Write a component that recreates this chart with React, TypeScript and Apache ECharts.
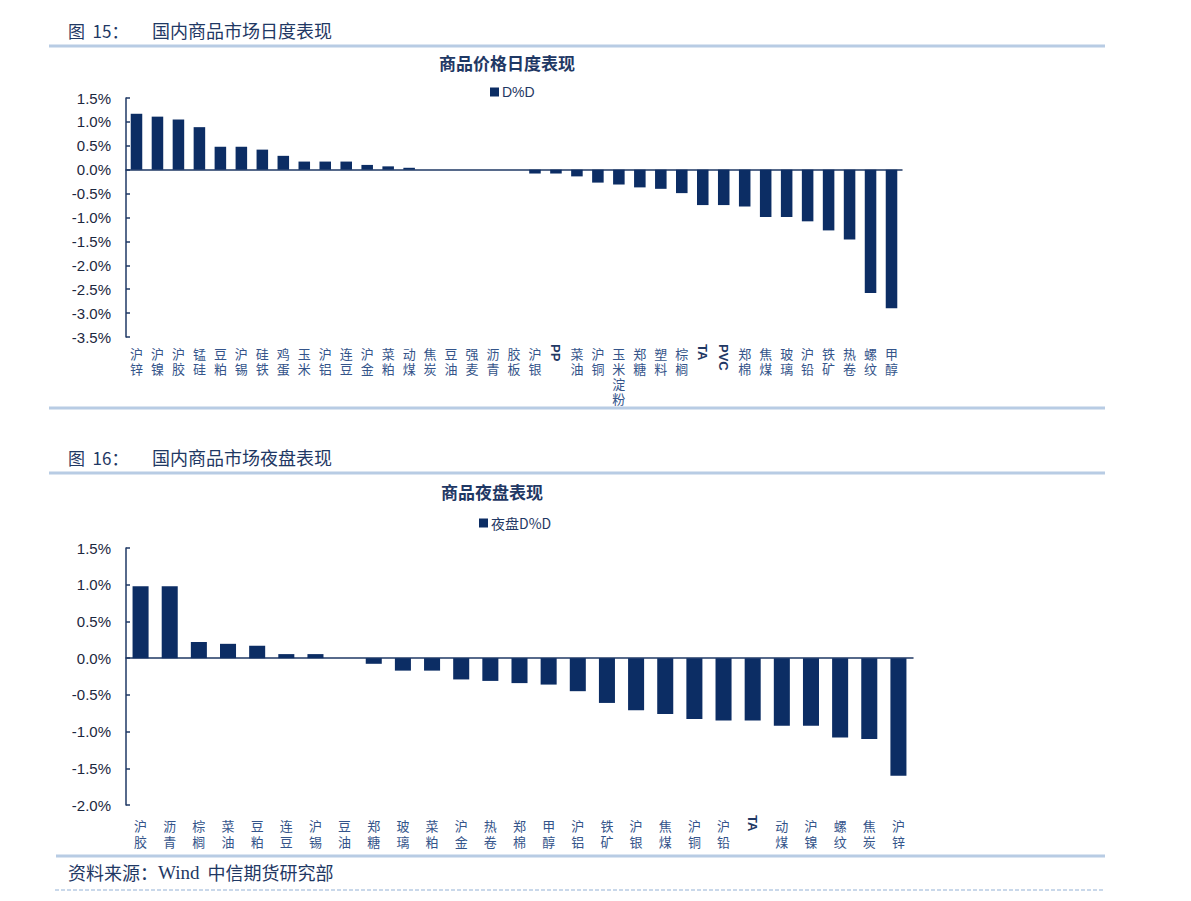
import React, { useEffect, useRef } from "react";
import * as echarts from "echarts";

const topCategories = ["沪锌","沪镍","沪胶","锰硅","豆粕","沪锡","硅铁","鸡蛋","玉米","沪铝","连豆","沪金","菜粕","动煤","焦炭","豆油","强麦","沥青","胶板","沪银","PP","菜油","沪铜","玉米淀粉","郑糖","塑料","棕榈","TA","PVC","郑棉","焦煤","玻璃","沪铅","铁矿","热卷","螺纹","甲醇"];
const topValues = [1.17,1.11,1.05,0.89,0.48,0.48,0.42,0.29,0.17,0.17,0.17,0.10,0.07,0.04,0,0,0,0,0,-0.08,-0.08,-0.14,-0.27,-0.31,-0.37,-0.40,-0.49,-0.74,-0.74,-0.77,-0.99,-0.99,-1.08,-1.27,-1.46,-2.58,-2.90];

const nightCategories = ["沪胶","沥青","棕榈","菜油","豆粕","连豆","沪锡","豆油","郑糖","玻璃","菜粕","沪金","热卷","郑棉","甲醇","沪铝","铁矿","沪银","焦煤","沪铜","沪铅","TA","动煤","沪镍","螺纹","焦炭","沪锌"];
const nightValues = [0.98,0.98,0.22,0.195,0.17,0.055,0.055,0,-0.077,-0.17,-0.17,-0.29,-0.31,-0.34,-0.36,-0.45,-0.61,-0.71,-0.76,-0.83,-0.85,-0.85,-0.92,-0.92,-1.08,-1.10,-1.60];

const topYRange = [-3.5, 1.5];
const nightYRange = [-2, 1.5];

const BAR = "#0c2d64";
const NAVY = "#1f3864";
const LINE = "#b8cce4";
const CJK = "'Noto Sans CJK SC', sans-serif";
const ARIAL = "Arial, 'Liberation Sans', sans-serif";
const isLatin = (v: string) => /[A-Za-z]/.test(v);

function xAxes(grid: number, cats: string[], cjkMargin: number, lineH: number) {
  return [
    {
      type: "category", gridIndex: grid, data: cats,
      axisLine: { onZero: true, lineStyle: { color: NAVY, width: 1.5 } },
      axisTick: { inside: true, length: 5, lineStyle: { color: NAVY, width: 1.5 } },
      axisLabel: { show: false },
    },
    {
      type: "category", gridIndex: grid, data: cats, position: "bottom",
      axisLine: { show: false, onZero: false }, axisTick: { show: false },
      axisLabel: {
        interval: 0, margin: cjkMargin, color: "#34548a", fontFamily: CJK, fontSize: 13,
        lineHeight: lineH,
        formatter: (v: string) => (isLatin(v) ? "" : v.split("").join("\n")),
      },
    },
  ];
}

function yAxis(grid: number, range: number[]) {
  return {
    type: "value", gridIndex: grid, min: range[0], max: range[1], interval: 0.5,
    axisLine: { show: true, lineStyle: { color: NAVY, width: 1.5 } },
    axisTick: { show: true, inside: true, length: 4, lineStyle: { color: NAVY, width: 1.5 } },
    splitLine: { show: false },
    axisLabel: {
      margin: 15, color: "#1c2740", fontSize: 15, fontFamily: ARIAL,
      formatter: (v: number) => v.toFixed(1) + "%",
    },
  };
}

function hline(y: number, x1: number, x2: number, dashed = false, w = 3) {
  return {
    type: "line", shape: { x1, y1: y, x2, y2: y },
    style: { stroke: LINE, lineWidth: w, lineDash: dashed ? [4, 2] : undefined },
  };
}

function text(x: number, y: number, t: string, size: number, bold = false, align = "left") {
  return {
    type: "text", x, y,
    style: {
      text: t, fill: NAVY, font: `${bold ? "bold " : ""}${size}px ${CJK}`,
      textAlign: align, textVerticalAlign: "middle",
    },
  };
}

export default function App() {
  const ref = useRef<HTMLDivElement>(null);
  useEffect(() => {
    if (!ref.current) return;
    const chart = echarts.init(ref.current, undefined, { renderer: "svg" });
    chart.setOption({
      animation: false,
      backgroundColor: "#ffffff",
      grid: [
        { left: 126, top: 98, width: 776, height: 239 },
        { left: 126, top: 548, width: 787, height: 257 },
      ],
      legend: [
        {
          data: ["D%D"], left: 485, top: 80, itemWidth: 9, itemHeight: 9, itemGap: 4,
          icon: "rect", textStyle: { color: NAVY, fontSize: 14, fontFamily: ARIAL, padding: [0, 0, 0, -2] },
        },
        {
          data: ["夜盘D%D"], left: 474, top: 511, itemWidth: 9, itemHeight: 9, itemGap: 4,
          icon: "rect", textStyle: { color: NAVY, fontSize: 14, fontFamily: CJK, padding: [0, 0, 0, -2] },
        },
      ],
      xAxis: [...xAxes(0, topCategories, 9, 15), ...xAxes(1, nightCategories, 12, 16.5)],
      yAxis: [yAxis(0, topYRange), yAxis(1, nightYRange)],
      series: [
        { name: "D%D", type: "bar", xAxisIndex: 0, yAxisIndex: 0, data: topValues, barWidth: "55%", itemStyle: { color: BAR } },
        { name: "夜盘D%D", type: "bar", xAxisIndex: 2, yAxisIndex: 1, data: nightValues, barWidth: "55%", itemStyle: { color: BAR } },
      ],
    });

    // Latin category labels are drawn rotated, placed through the axes' own scales.
    const latinLabels: any[] = [];
    const addLatin = (cats: string[], xAxisIndex: number, yAxisIndex: number, yMin: number, margin: number) => {
      const yBottom = chart.convertToPixel({ yAxisIndex } as any, yMin) as number;
      cats.forEach((c) => {
        if (!isLatin(c)) return;
        const x = chart.convertToPixel({ xAxisIndex } as any, c) as number;
        latinLabels.push({
          type: "text", x, y: yBottom + margin, rotation: -Math.PI / 2,
          style: {
            text: c, fill: NAVY, font: `bold 13px ${ARIAL}`,
            textAlign: "left", textVerticalAlign: "middle",
          },
        });
      });
    };
    addLatin(topCategories, 0, 0, topYRange[0], 7);
    addLatin(nightCategories, 2, 1, nightYRange[0], 10);

    chart.setOption({
      graphic: [
        text(68, 30, "图  15：", 17),
        text(152, 30, "国内商品市场日度表现", 18),
        hline(46, 49, 1105),
        text(507, 62, "商品价格日度表现", 17, true, "center"),
        hline(408, 49, 1105),
        text(68, 457, "图  16：", 17),
        text(152, 457, "国内商品市场夜盘表现", 18),
        hline(473, 49, 1105),
        text(492, 491, "商品夜盘表现", 17, true, "center"),
        hline(856, 56, 1105),
        {
          type: "text", x: 68, y: 872,
          style: {
            text: "{a|资料来源：}{b|Wind}{a|  中信期货研究部}",
            textVerticalAlign: "middle",
            rich: {
              a: { fill: NAVY, fontSize: 18, fontFamily: CJK },
              b: { fill: NAVY, fontSize: 19, fontFamily: "'Liberation Serif', serif" },
            },
          },
        },
        hline(890, 55, 1105, true, 1.5),
        ...latinLabels,
      ],
    });
    return () => chart.dispose();
  }, []);
  return (
    <div
      ref={ref}
      style={{ position: "absolute", left: 0, top: 0, width: 1191, height: 901 }}
    />
  );
}
